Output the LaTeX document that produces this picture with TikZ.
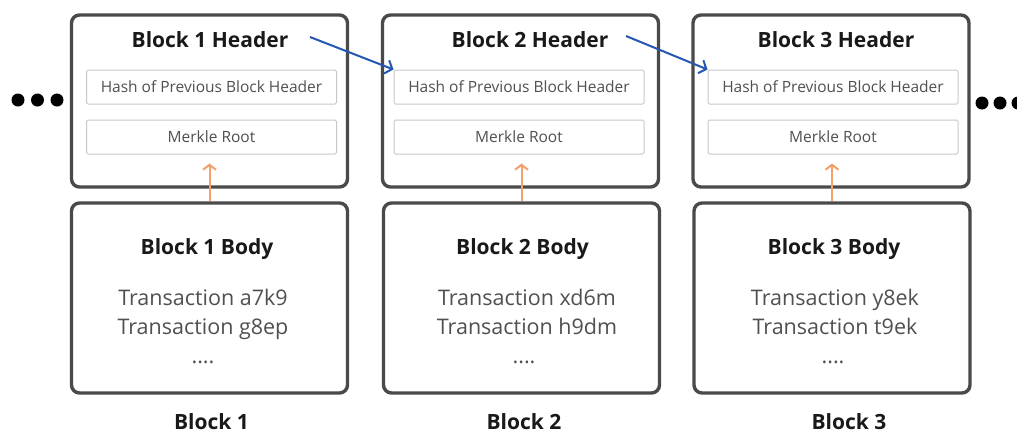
\documentclass[tikz,border=0pt]{standalone}
\usepackage{fontspec}
\setmainfont{Open Sans}
\usetikzlibrary{arrows.meta}
\definecolor{frame}{HTML}{4A4A4A}
\definecolor{innerline}{HTML}{C8C8C8}
\definecolor{softtext}{HTML}{505050}
\definecolor{linkblue}{HTML}{2557B2}
\definecolor{rootorange}{HTML}{F4A06A}
\tikzset{
  outerbox/.style={draw=frame, line width=3.4pt, rounded corners=8pt,
    minimum width=276pt, inner sep=0pt, fill=white},
  fieldbox/.style={draw=innerline, line width=1pt, rounded corners=1.5pt,
    minimum width=250pt, minimum height=34pt, inner sep=0pt,
    font=\fontsize{15.5}{18}\selectfont, text=softtext},
  titletext/.style={anchor=base, inner sep=0pt,
    font=\fontsize{21}{24}\selectfont\bfseries, text=black!90},
  txtext/.style={anchor=base, inner sep=0pt,
    font=\fontsize{21.5}{24}\selectfont, text=softtext},
  prevlink/.style={draw=linkblue, line width=2pt,
    -{Straight Barb[length=6pt,width=14pt,line width=2pt]}},
  rootlink/.style={draw=rootorange, line width=2pt, shorten >=9pt,
    -{Straight Barb[length=5pt,width=13pt,line width=2pt]}},
  moredot/.style={fill=black, draw=none, circle, minimum size=13pt, inner sep=0pt}
}
\begin{document}
\begin{tikzpicture}[x=1pt,y=-1pt]
\useasboundingbox (0,0) rectangle (1017,432);

% header and body frames of the three blocks
\node[outerbox, minimum height=172pt] (h1) at (209.5,101) {};
\node[outerbox, minimum height=172pt] (h2) at (520.5,101) {};
\node[outerbox, minimum height=172pt] (h3) at (831,101) {};
\node[outerbox, minimum height=190pt] (b1) at (209.5,298) {};
\node[outerbox, minimum height=190pt] (b2) at (521.5,298) {};
\node[outerbox, minimum height=190pt] (b3) at (832,298) {};

% header fields
\node[fieldbox] (hp1) at (211.5,87) {Hash of Previous Block Header};
\node[fieldbox] (mr1) at (211.5,137) {Merkle Root};
\node[fieldbox] (hp2) at (519,87) {Hash of Previous Block Header};
\node[fieldbox] (mr2) at (519,137) {Merkle Root};
\node[fieldbox] (hp3) at (833,87) {Hash of Previous Block Header};
\node[fieldbox] (mr3) at (833,137) {Merkle Root};

% header titles
\node[titletext] (ht1) at (210,47) {Block 1 Header};
\node[titletext] (ht2) at (530,47) {Block 2 Header};
\node[titletext] (ht3) at (836,47) {Block 3 Header};

% body titles and transactions
\node[titletext] (bt1) at (207,254) {Block 1 Body};
\node[txtext] (ta1) at (203,305) {Transaction a7k9};
\node[txtext] (tb1) at (203,334) {Transaction g8ep};
\node[txtext] (td1) at (203,363) {....};

\node[titletext] (bt2) at (522.5,254) {Block 2 Body};
\node[txtext] (ta2) at (527,305) {Transaction xd6m};
\node[txtext] (tb2) at (527,334) {Transaction h9dm};
\node[txtext] (td2) at (524,363) {....};

\node[titletext] (bt3) at (834,254) {Block 3 Body};
\node[txtext] (ta3) at (835,305) {Transaction y8ek};
\node[txtext] (tb3) at (835,334) {Transaction t9ek};
\node[txtext] (td3) at (833,363) {....};

% block captions
\node[titletext] (c1) at (211.5,429) {Block 1};
\node[titletext] (c2) at (524,429) {Block 2};
\node[titletext] (c3) at (849,429) {Block 3};

% chain continues on both sides
\node[moredot] (l1) at (18,100) {};
\node[moredot] (l2) at (37.5,100) {};
\node[moredot] (l3) at (57,100) {};
\node[moredot] (r1) at (982,103) {};
\node[moredot] (r2) at (1000,103) {};
\node[moredot] (r3) at (1018,103) {};

% links from each header to the next block's previous-hash field
\coordinate (s1) at (310,37);
\coordinate (s2) at (626,36);
\draw[prevlink] (s1) -- (hp2.north west);
\draw[prevlink] (s2) -- (hp3.north west);

% body transactions feed the Merkle root
\draw[rootlink] (b1.north) -- (b1.north |- mr1.south);
\draw[rootlink] (b2.north) -- (b2.north |- mr2.south);
\draw[rootlink] (b3.north) -- (b3.north |- mr3.south);
\end{tikzpicture}
\end{document}
